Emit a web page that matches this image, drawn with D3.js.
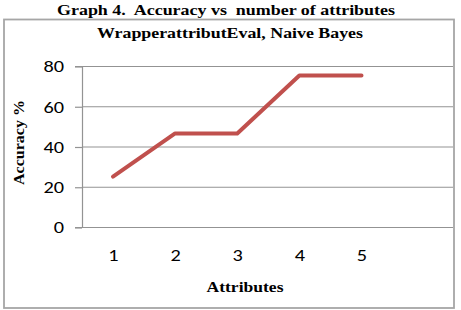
<!DOCTYPE html>
<html><head><meta charset="utf-8">
<script src="https://cdn.jsdelivr.net/npm/d3@7"></script>
<style>body{margin:0;background:#fff}svg{display:block}</style>
</head><body>
<script>
const categories = ["1","2","3","4","5"];
const accuracy = [25, 46.5, 46.5, 75.3, 75.3];
const yTicks = [0, 20, 40, 60, 80];
const title = "Graph 4.  Accuracy vs  number of attributes";
const subtitle = "WrapperattributEval, Naive Bayes";
const xTitle = "Attributes";
const yTitle = "Accuracy %";

(function () {
const W = 461, H = 310;
const svg = d3.select("body").append("svg").attr("width", W).attr("height", H);
const serif = "'Liberation Serif','Times New Roman',serif";
const sans = "Carlito,'Liberation Sans',Arial,sans-serif";

svg.append("text").attr("x", 226).attr("y", 15).attr("text-anchor", "middle")
  .attr("font-family", serif).attr("font-weight", "bold").attr("font-size", 15.5)
  .attr("textLength", 338).attr("lengthAdjust", "spacingAndGlyphs")
  .attr("xml:space", "preserve").style("white-space", "pre").text(title);

svg.append("rect").attr("x", 4).attr("y", 19.5).attr("width", 450).attr("height", 288.5)
  .attr("fill", "#fff").attr("stroke", "#a6a6a6").attr("stroke-width", 1.8);

svg.append("text").attr("x", 230).attr("y", 38).attr("text-anchor", "middle")
  .attr("font-family", serif).attr("font-weight", "bold").attr("font-size", 15.5)
  .attr("textLength", 266).attr("lengthAdjust", "spacingAndGlyphs").text(subtitle);

const pLeft = 82, pRight = 453, pTop = 66, pBottom = 227;
const x = d3.scalePoint().domain(categories).range([113, 361.5]);
const y = d3.scaleLinear().domain([0, 80]).range([pBottom, pTop]);

svg.append("g").selectAll("line").data(yTicks).join("line")
  .attr("x1", pLeft).attr("x2", pRight)
  .attr("y1", d => y(d) + 0.5).attr("y2", d => y(d) + 0.5)
  .attr("stroke", "#939393").attr("stroke-width", 1.2);

const ya = svg.append("g").attr("transform", `translate(${pLeft},0)`)
  .call(d3.axisLeft(y).tickValues(yTicks).tickSize(7).tickPadding(11));
ya.select(".domain").attr("stroke", "#939393").attr("stroke-width", 1.2);
ya.selectAll(".tick line").attr("stroke", "#939393").attr("stroke-width", 1.2).attr("transform", "translate(0,0.5)");
ya.selectAll(".tick text").attr("font-family", sans).attr("font-size", 16.5).attr("fill", "#000")
  .attr("dy", "0.36em")
  .attr("textLength", d => String(d).length * 10.3).attr("lengthAdjust", "spacingAndGlyphs");

const xa = svg.append("g").attr("transform", `translate(0,${pBottom})`)
  .call(d3.axisBottom(x).tickSize(0));
xa.select(".domain").remove();
xa.selectAll(".tick text").attr("font-family", sans).attr("font-size", 16.5).attr("fill", "#000")
  .attr("y", 33.5).attr("dy", null)
  .attr("textLength", d => String(d).length * 10.3).attr("lengthAdjust", "spacingAndGlyphs");

svg.append("path").datum(accuracy)
  .attr("d", d3.line().x((d, i) => x(categories[i])).y(d => y(d)))
  .attr("fill", "none").attr("stroke", "#C0504D").attr("stroke-width", 4)
  .attr("stroke-linecap", "round").attr("stroke-linejoin", "round");

svg.append("text").attr("x", 245).attr("y", 292).attr("text-anchor", "middle")
  .attr("font-family", serif).attr("font-weight", "bold").attr("font-size", 15.5)
  .attr("textLength", 77).attr("lengthAdjust", "spacingAndGlyphs").text(xTitle);

svg.append("text").attr("transform", "translate(23.5,142.5) rotate(-90)").attr("text-anchor", "middle")
  .attr("font-family", serif).attr("font-weight", "bold").attr("font-size", 15.5)
  .attr("textLength", 85).attr("lengthAdjust", "spacingAndGlyphs").text(yTitle);
})();
</script>
</body></html>
